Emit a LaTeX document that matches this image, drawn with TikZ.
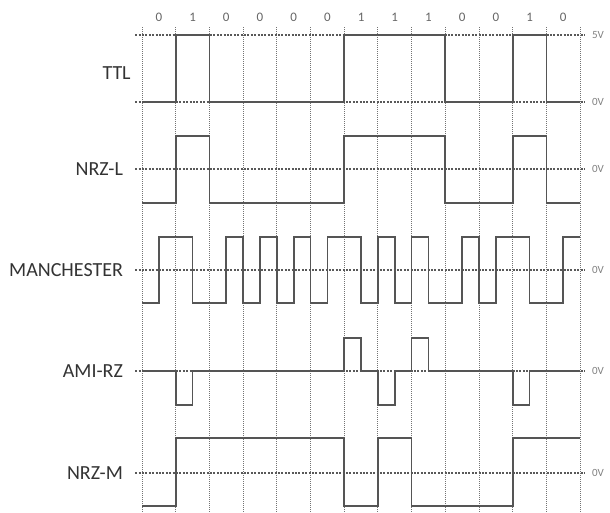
\documentclass[tikz,border=0pt]{standalone}
\usepackage{fontspec}
\setmainfont{Carlito}
\definecolor{wavegray}{HTML}{555555}
\definecolor{textgray}{HTML}{333333}
\tikzset{
  wave/.style={line width=1.7pt, draw=wavegray, line join=miter},
  gridline/.style={draw=black!55, line width=1pt, dash pattern=on 1pt off 1pt},
  levelline/.style={draw=black!65, line width=1.3pt, dash pattern=on 2pt off 1.4pt},
  signame/.style={anchor=east, text=textgray, font=\fontsize{20}{20}\selectfont, inner sep=0pt},
  bitlabel/.style={text=black!60, font=\fontsize{13}{13}\selectfont, inner sep=0pt},
  volt/.style={anchor=west, text=black!50, font=\fontsize{11}{11}\selectfont, inner sep=0pt}
}
\begin{document}
\begin{tikzpicture}[x={(33.7pt,0)}, y={(0,-1pt)}]
    \useasboundingbox (-4.2136,0) rectangle (13.887,512);

    % Grid
    \foreach \i in {0,...,13}
        \draw[gridline] (\i,27) -- (\i,512);
    \foreach \lv in {35,102,169,270,371,473}
        \draw[levelline] (-0.2,\lv) -- (13.15,\lv);

    % Bits
    \foreach \b [count=\k from 0] in {0,1,0,0,0,0,1,1,1,0,0,1,0}
        \node[bitlabel] (bit\k) at (\k+0.5,17) {\b};

    % Signal names
    \node[signame] (ttl) at (-0.33,73) {TTL};
    \node[signame] (nrzl) at (-0.56,169) {NRZ-L};
    \node[signame] (manch) at (-0.56,270) {MANCHESTER};
    \node[signame] (amirz) at (-0.56,371) {AMI-RZ};
    \node[signame] (nrzm) at (-0.56,473) {NRZ-M};

    % Levels
    \node[volt] (v5) at (13.35,35) {5V};
    \node[volt] (v0ttl) at (13.35,102) {0V};
    \node[volt] (v0nrzl) at (13.35,169) {0V};
    \node[volt] (v0manch) at (13.35,270) {0V};
    \node[volt] (v0ami) at (13.35,371) {0V};
    \node[volt] (v0nrzm) at (13.35,473) {0V};

    % Waveforms
    \draw[wave] (0,102) -- (1,102) -- (1,35) -- (2,35) -- (2,102) -- (6,102) -- (6,35)
        -- (9,35) -- (9,102) -- (11,102) -- (11,35) -- (12,35) -- (12,102) -- (13,102);

    \draw[wave] (0,203) -- (1,203) -- (1,136) -- (2,136) -- (2,203) -- (6,203) -- (6,136)
        -- (9,136) -- (9,203) -- (11,203) -- (11,136) -- (12,136) -- (12,203) -- (13,203);

    \draw[wave] (0,303) -- (0.5,303) -- (0.5,237) -- (1.5,237) -- (1.5,303) -- (2.5,303)
        -- (2.5,237) -- (3,237) -- (3,303) -- (3.5,303) -- (3.5,237) -- (4,237) -- (4,303)
        -- (4.5,303) -- (4.5,237) -- (5,237) -- (5,303) -- (5.5,303) -- (5.5,237) -- (6.5,237)
        -- (6.5,303) -- (7,303) -- (7,237) -- (7.5,237) -- (7.5,303) -- (8,303) -- (8,237)
        -- (8.5,237) -- (8.5,303) -- (9.5,303) -- (9.5,237) -- (10,237) -- (10,303)
        -- (10.5,303) -- (10.5,237) -- (11.5,237) -- (11.5,303) -- (12.5,303) -- (12.5,237)
        -- (13,237);

    \draw[wave] (0,371) -- (1,371) -- (1,405) -- (1.5,405) -- (1.5,371) -- (6,371)
        -- (6,338) -- (6.5,338) -- (6.5,371) -- (7,371) -- (7,405) -- (7.5,405) -- (7.5,371)
        -- (8,371) -- (8,338) -- (8.5,338) -- (8.5,371) -- (11,371) -- (11,405) -- (11.5,405)
        -- (11.5,371) -- (13,371);

    \draw[wave] (0,506) -- (1,506) -- (1,438) -- (6,438) -- (6,506) -- (7,506) -- (7,438)
        -- (8,438) -- (8,506) -- (11,506) -- (11,438) -- (13,438);
\end{tikzpicture}
\end{document}
